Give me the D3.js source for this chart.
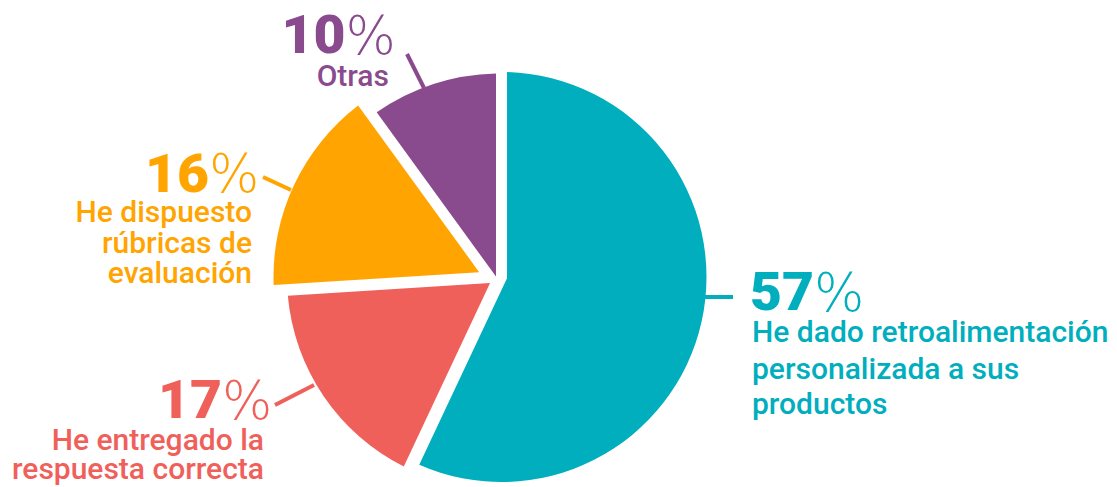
<!DOCTYPE html>
<html>
<head>
<meta charset="utf-8">
<script src="https://cdn.jsdelivr.net/npm/d3@7"></script>
<style>
  html, body { margin: 0; padding: 0; background: #ffffff; }
  svg { display: block; }
  text { font-family: Roboto, "Noto Sans", sans-serif; }
</style>
</head>
<body>
<svg id="chart" width="1117" height="487"></svg>
<script>
// ---- data ----
const categories = [
  "He dado retroalimentación personalizada a sus productos",
  "He entregado la respuesta correcta",
  "He dispuesto rúbricas de evaluación",
  "Otras"
];
const values = [57, 17, 16, 10];
const labelLines = [
  ["He dado retroalimentación", "personalizada a sus", "productos"],
  ["He entregado la", "respuesta correcta"],
  ["He dispuesto", "rúbricas de", "evaluación"],
  ["Otras"]
];
const colors = ["#00aebd", "#f0605a", "#ffa400", "#8a4b8e"];

// ---- layout (not data) ----
const center = [501.5, 277];
const gap = 11;                       // white gap between slices
const sliceShift = [[0, 0], [-2.5, 0], [-12, 0], [0, 16.5]];
const sliceRadius = [205, 212, 216, 220];

// label layout: number left x / baseline, text anchor x, line baselines, leader line
const labelLayout = [
  { anchor: "start", numX: 750,   numY: 310,   x: 752, lineY: [342, 379, 413.5],     leader: [[700, 297], [733, 297]] },
  { anchor: "end",   numX: 158,   numY: 418,   x: 264, lineY: [450, 478.5],          leader: [[275, 405], [314, 385]] },
  { anchor: "end",   numX: 145,   numY: 191.5, x: 252, lineY: [222, 252.5, 283],     leader: [[263, 177], [291, 190]] },
  { anchor: "end",   numX: 281.5, numY: 53,    x: 389, lineY: [85.5],                leader: [[407, 54], [424, 88]] }
];
const digitsLen = 64, pctOffset = 64;

const svg = d3.select("#chart");
const pie = d3.pie().sort(null).value(d => d)(values);

// polar helper: angle measured clockwise from 12 o'clock
const pt = (a, r) => [r * Math.sin(a), -r * Math.cos(a)];

function wedgePath(d, R, h) {
  const a0 = d.startAngle, a1 = d.endAngle, th = a1 - a0;
  const mid = (a0 + a1) / 2;
  const apex = pt(mid, h / Math.sin(th / 2));
  const da = Math.asin(h / R);
  const s = a0 + da, e = a1 - da;
  const p = d3.path();
  p.moveTo(apex[0], apex[1]);
  const c0 = pt(s, R);
  p.lineTo(c0[0], c0[1]);
  p.arc(0, 0, R, s - Math.PI / 2, e - Math.PI / 2, false);
  p.closePath();
  return p.toString();
}

const g = svg.append("g").attr("transform", `translate(${center[0]},${center[1]})`);

g.selectAll("path.slice")
  .data(pie)
  .join("path")
  .attr("class", "slice")
  .attr("transform", (d, i) => `translate(${sliceShift[i][0]},${sliceShift[i][1]})`)
  .attr("d", (d, i) => wedgePath(d, sliceRadius[i], gap / 2))
  .attr("fill", (d, i) => colors[i]);

// leader lines
svg.selectAll("line.leader")
  .data(labelLayout)
  .join("line")
  .attr("class", "leader")
  .attr("x1", d => d.leader[0][0]).attr("y1", d => d.leader[0][1])
  .attr("x2", d => d.leader[1][0]).attr("y2", d => d.leader[1][1])
  .attr("stroke", (d, i) => colors[i])
  .attr("stroke-width", 4);

// labels
labelLayout.forEach((L, i) => {
  svg.append("text")
    .attr("class", "pct-num")
    .attr("x", L.numX).attr("y", L.numY)
    .attr("fill", colors[i])
    .attr("font-size", 53).attr("font-weight", 900)
    .attr("textLength", digitsLen).attr("lengthAdjust", "spacingAndGlyphs")
    .text(values[i]);
  svg.append("text")
    .attr("class", "pct-sign")
    .attr("x", L.numX + pctOffset).attr("y", L.numY + 0.5)
    .attr("fill", colors[i])
    .style("font-family", '"DejaVu Sans", Roboto, sans-serif')
    .attr("font-size", 53).attr("font-weight", 200)
    .text("%");

  svg.append("g").selectAll("text")
    .data(labelLines[i])
    .join("text")
    .attr("x", L.x)
    .attr("y", (t, j) => L.lineY[j])
    .attr("text-anchor", L.anchor)
    .attr("fill", colors[i])
    .attr("font-size", 30)
    .attr("font-weight", 500)
    .text(t => t);
});
</script>
</body>
</html>
